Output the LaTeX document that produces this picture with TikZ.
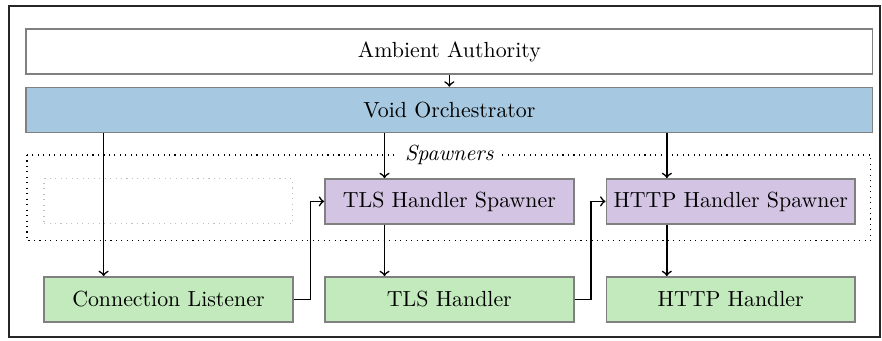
\documentclass[tikz,border=0pt]{standalone}
\usetikzlibrary{calc}

\definecolor{orchblue}{RGB}{166,200,224}
\definecolor{spawnpurple}{RGB}{212,196,228}
\definecolor{handlergreen}{RGB}{194,234,188}

\tikzset{
  box/.style={shape=rectangle, draw=black!50, line width=0.7pt, inner sep=0, minimum width=4cm, minimum height=0.723cm},
  widebox/.style={box, minimum width=13.61cm},
  flow/.style={->, line width=0.75pt},
}

\begin{document}
\begin{tikzpicture}
        \useasboundingbox (0, 0) rectangle (14.18, -5.47);
        % Outer frame:
        \draw[black!85, line width=0.9pt] (0.145, -0.096) rectangle (14.14, -5.416);
        % Top layers:
        \node[widebox] (amb) at (7.224, -0.828){Ambient Authority};
        \node[widebox, fill=orchblue] (void) at (7.224, -1.768){Void Orchestrator};
        % Spawners group:
        \draw[dotted, line width=0.5pt] (0.434, -2.491) rectangle (13.997, -3.873);
        \node[fill=white, inner sep=4pt] (spawners) at (7.224, -2.491){\itshape Spawners};
        \node[box, draw=black!25, line width=0.5pt, dotted] (slot) at (2.708, -3.238){};
        \node[box, fill=spawnpurple] (tlsspawn) at (7.224, -3.238){TLS Handler Spawner};
        \node[box, fill=spawnpurple] (httpspawn) at (11.747, -3.238){HTTP Handler Spawner};
        % Handlers:
        \node[box, fill=handlergreen] (listener) at (2.708, -4.813){Connection Listener};
        \node[box, fill=handlergreen] (tls) at (7.224, -4.813){TLS Handler};
        \node[box, fill=handlergreen] (http) at (11.747, -4.813){HTTP Handler};
        % Entry points on the lower boxes:
        \coordinate (listenerin) at ($(listener.north west)!0.241!(listener.north east)$);
        \coordinate (tlsspawnin) at ($(tlsspawn.north west)!0.241!(tlsspawn.north east)$);
        \coordinate (httpspawnin) at ($(httpspawn.north west)!0.245!(httpspawn.north east)$);
        \coordinate (tlsin) at ($(tls.north west)!0.241!(tls.north east)$);
        \coordinate (httpin) at ($(http.north west)!0.245!(http.north east)$);
        % Wires:
        \draw[flow] (amb.south) -- (void.north);
        \draw[flow] (void.south -| listenerin) -- (listenerin);
        \draw[flow] (void.south -| tlsspawnin) -- (tlsspawnin);
        \draw[flow] (void.south -| httpspawnin) -- (httpspawnin);
        \draw[flow] (tlsspawn.south -| tlsin) -- (tlsin);
        \draw[flow] (httpspawn.south -| httpin) -- (httpin);
        \draw[flow] (listener.east) -- ++(0.27, 0) |- (tlsspawn.west);
        \draw[flow] (tls.east) -- ++(0.26, 0) |- (httpspawn.west);
\end{tikzpicture}
\end{document}
